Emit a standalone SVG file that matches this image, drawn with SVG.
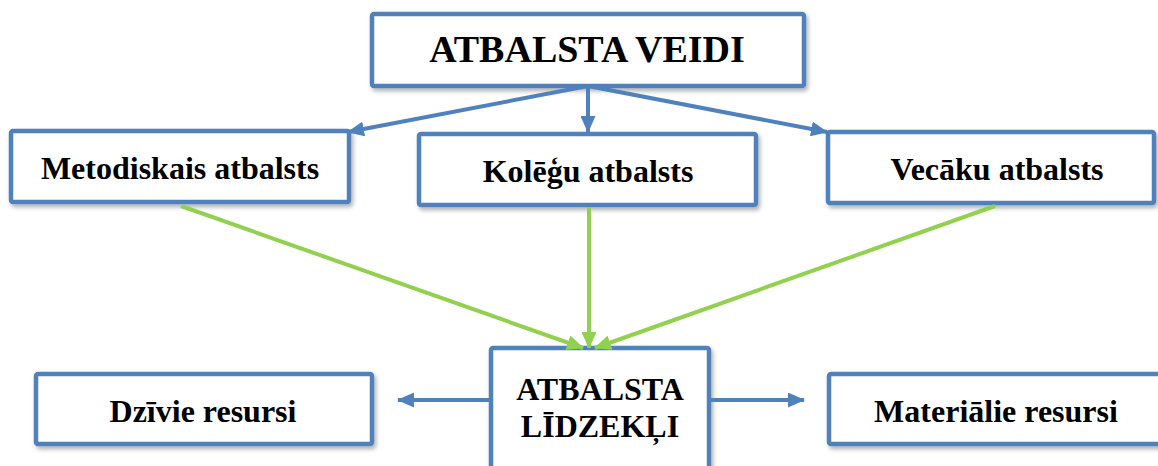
<svg xmlns="http://www.w3.org/2000/svg" width="1158" height="466" viewBox="0 0 1158 466">
  <style>
    .box { fill: #ffffff; stroke: #4F81BD; stroke-width: 4.5; filter: url(#shadow); }
    .lbl { font-family: "Liberation Serif", "Times New Roman", serif; font-weight: bold; fill: #000000; text-anchor: middle; }
    .blue { stroke: #4F81BD; stroke-width: 4; fill: none; marker-end: url(#ahBlue); }
    .green { stroke: #92D050; stroke-width: 4; fill: none; marker-end: url(#ahGreen); }
  </style>
  <defs>
    <filter id="shadow" x="-10%" y="-10%" width="120%" height="130%">
      <feDropShadow dx="2" dy="3" stdDeviation="2" flood-color="#000000" flood-opacity="0.3"/>
    </filter>
    <marker id="ahBlue" markerUnits="userSpaceOnUse" markerWidth="17" markerHeight="15" viewBox="0 0 17 15" refX="16" refY="7.5" orient="auto">
      <path d="M0,0 L17,7.5 L0,15 z" fill="#4F81BD"/>
    </marker>
    <marker id="ahGreen" markerUnits="userSpaceOnUse" markerWidth="17" markerHeight="15" viewBox="0 0 17 15" refX="16" refY="7.5" orient="auto">
      <path d="M0,0 L17,7.5 L0,15 z" fill="#92D050"/>
    </marker>
  </defs>
  <rect width="1158" height="466" fill="#ffffff"/>

  <g id="node-atbalsta-veidi">
    <rect class="box" x="372" y="14" width="432" height="72" rx="2"/>
    <text class="lbl" x="587" y="62" font-size="38">ATBALSTA VEIDI</text>
  </g>
  <g id="node-metodiskais">
    <rect class="box" x="11" y="131" width="338" height="71" rx="2"/>
    <text class="lbl" x="180" y="179" font-size="32">Metodiskais atbalsts</text>
  </g>
  <g id="node-kolegu">
    <rect class="box" x="419" y="134" width="337" height="71" rx="2"/>
    <text class="lbl" x="588" y="182" font-size="32">Kolēģu atbalsts</text>
  </g>
  <g id="node-vecaku">
    <rect class="box" x="828" y="132" width="326" height="71" rx="2"/>
    <text class="lbl" x="997" y="180" font-size="32">Vecāku atbalsts</text>
  </g>
  <g id="node-atbalsta-lidzekli">
    <rect class="box" x="491" y="348" width="218" height="130" rx="2"/>
    <text class="lbl" x="600" y="400" font-size="32">ATBALSTA</text>
    <text class="lbl" x="600" y="437" font-size="32">LĪDZEKĻI</text>
  </g>
  <g id="node-dzivie">
    <rect class="box" x="36" y="374" width="336" height="70" rx="2"/>
    <text class="lbl" x="203" y="422" font-size="32">Dzīvie resursi</text>
  </g>
  <g id="node-materialie">
    <rect class="box" x="829" y="374" width="340" height="70" rx="2"/>
    <text class="lbl" x="996" y="422" font-size="32">Materiālie resursi</text>
  </g>

  <g id="connectors">
    <line class="blue" x1="588" y1="86" x2="348" y2="132"/>
    <line class="blue" x1="588" y1="86" x2="588" y2="132"/>
    <line class="blue" x1="588" y1="86" x2="827" y2="132"/>
    <line class="green" x1="181" y1="206" x2="583" y2="348"/>
    <line class="green" x1="589" y1="207" x2="589" y2="348"/>
    <line class="green" x1="995" y1="206" x2="595" y2="348"/>
    <line class="blue" x1="489" y1="400" x2="398" y2="400"/>
    <line class="blue" x1="711" y1="400" x2="804" y2="400"/>
  </g>
</svg>
